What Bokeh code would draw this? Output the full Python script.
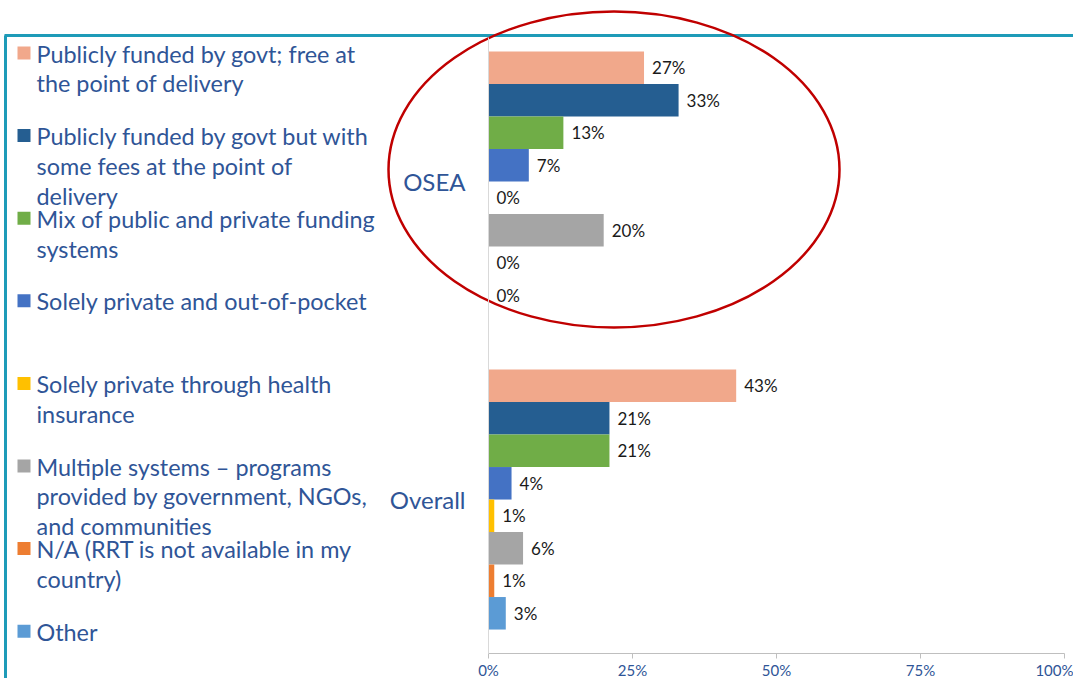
from bokeh.plotting import figure
from bokeh.models import Range1d, LinearAxis, FixedTicker, PrintfTickFormatter, ColumnDataSource
from bokeh.core.properties import value
from bokeh.embed import file_html
from bokeh.resources import INLINE

# ---------------- data ----------------
groups = ["OSEA", "Overall"]
series = [
    "Publicly funded by govt; free at\nthe point of delivery",
    "Publicly funded by govt but with\nsome fees at the point of\ndelivery",
    "Mix of public and private funding\nsystems",
    "Solely private and out-of-pocket",
    "Solely private through health\ninsurance",
    "Multiple systems \u2013 programs\nprovided by government, NGOs,\nand communities",
    "N/A (RRT is not available in my\ncountry)",
    "Other",
]
osea_values = [27, 33, 13, 7, 0, 20, 0, 0]
overall_values = [43, 21, 21, 4, 1, 6, 1, 3]
series_colors = ["#F1A88B", "#255E91", "#70AD47", "#4472C4",
                 "#FFC000", "#A5A5A5", "#ED7D31", "#5B9BD5"]
x_ticks = [0, 25, 50, 75, 100]

# ---------------- layout (pixels) ----------------
W, H = 1073, 678
X0_PX = 488.0            # pixel of 0 %
PX_PER_PCT = 5.76        # pixels per percent
SLOT_PX = 32.5           # one bar slot, in px
TOP_PAD = 1.57           # slots above first bar
GROUP_GAP = 1.785        # slots between groups
AXIS_Y = 653.0 / SLOT_PX


def px_x(px):
    return (px - X0_PX) / PX_PER_PCT


def px_y(px):
    return px / SLOT_PX


n = len(series)
group_values = [osea_values, overall_values]

ys, rights, cols, labels = [], [], [], []
for g, vals in enumerate(group_values):
    for s, v in enumerate(vals):
        ys.append(TOP_PAD + 0.5 + g * (n + GROUP_GAP) + s)
        rights.append(v)
        cols.append(series_colors[s])
        labels.append(f"{v}%")
bars = ColumnDataSource(dict(y=ys, right=rights, color=cols, label=labels))
group_centers = [TOP_PAD + 0.5 + g * (n + GROUP_GAP) + (n - 1) / 2 for g in range(len(groups))]

p = figure(width=W, height=H, output_backend="svg", toolbar_location=None,
           x_range=Range1d(px_x(0), px_x(W)), y_range=Range1d(px_y(H), 0),
           x_axis_location=None, y_axis_location=None, min_border=0,
           background_fill_color="white", border_fill_color="white")
p.outline_line_color = None
p.xgrid.visible = False
p.ygrid.visible = False

BLUE_TXT = "#2F5597"
FONT = value("Lato")

# teal frame
p.line(x=[px_x(4), px_x(W)], y=[px_y(35), px_y(35)], line_color="#1E9BB8", line_width=3)
p.line(x=[px_x(5), px_x(5)], y=[px_y(35), px_y(H)], line_color="#1E9BB8", line_width=3)

# bars
p.hbar(y="y", left=0, right="right", height=1.0, fill_color="color", line_color=None, source=bars)
p.text(x="right", y="y", text="label", source=bars, x_offset=8,
       text_font=FONT, text_font_size="17px", text_color="#1A1A1A",
       text_align="left", text_baseline="middle")

# legend (custom, left side)
leg_y0 = px_y(52.5)
leg_step = 82.6 / SLOT_PX
leg_src = ColumnDataSource(dict(
    y=[leg_y0 + i * leg_step for i in range(n)],
    ty=[leg_y0 + i * leg_step - 13.5 / SLOT_PX for i in range(n)],
    text=series, color=series_colors))
p.scatter(x=px_x(23.5), y="y", marker="square", size=13, fill_color="color",
          line_color=None, source=leg_src)
p.text(x=px_x(36), y="ty", text="text", source=leg_src, text_font=FONT,
       text_font_size="23.4px", text_color=BLUE_TXT, text_align="left",
       text_baseline="top", text_line_height=1.07)

# red highlight ellipse around OSEA
p.ellipse(x=px_x(613.5), y=px_y(169), width=451 / PX_PER_PCT, height=316 / SLOT_PX,
          fill_color=None, line_color="#C00000", line_width=2.5)

# axes
xaxis = LinearAxis(fixed_location=AXIS_Y, bounds=(0, 100),
                   ticker=FixedTicker(ticks=x_ticks),
                   formatter=PrintfTickFormatter(format="%d%%"))
xaxis.axis_line_color = "#BFBFBF"
xaxis.major_tick_line_color = "#BFBFBF"
xaxis.major_tick_out = 5
xaxis.major_tick_in = 0
xaxis.minor_tick_line_color = None
xaxis.major_label_standoff = 2
xaxis.major_label_text_font = "Lato"
xaxis.major_label_text_font_size = "15px"
xaxis.major_label_text_color = BLUE_TXT
p.add_layout(xaxis, "below")

yaxis = LinearAxis(fixed_location=0, bounds=(px_y(37), AXIS_Y),
                   ticker=FixedTicker(ticks=group_centers),
                   major_label_overrides={c: g for c, g in zip(group_centers, groups)})
yaxis.axis_line_color = "#D9D9D9"
yaxis.major_tick_line_color = None
yaxis.major_tick_out = 0
yaxis.major_tick_in = 0
yaxis.minor_tick_line_color = None
yaxis.major_label_standoff = 23
yaxis.major_label_text_font = "Lato"
yaxis.major_label_text_font_size = "24px"
yaxis.major_label_text_color = BLUE_TXT
p.add_layout(yaxis, "left")

open("out.html", "w").write(file_html(p, INLINE))
